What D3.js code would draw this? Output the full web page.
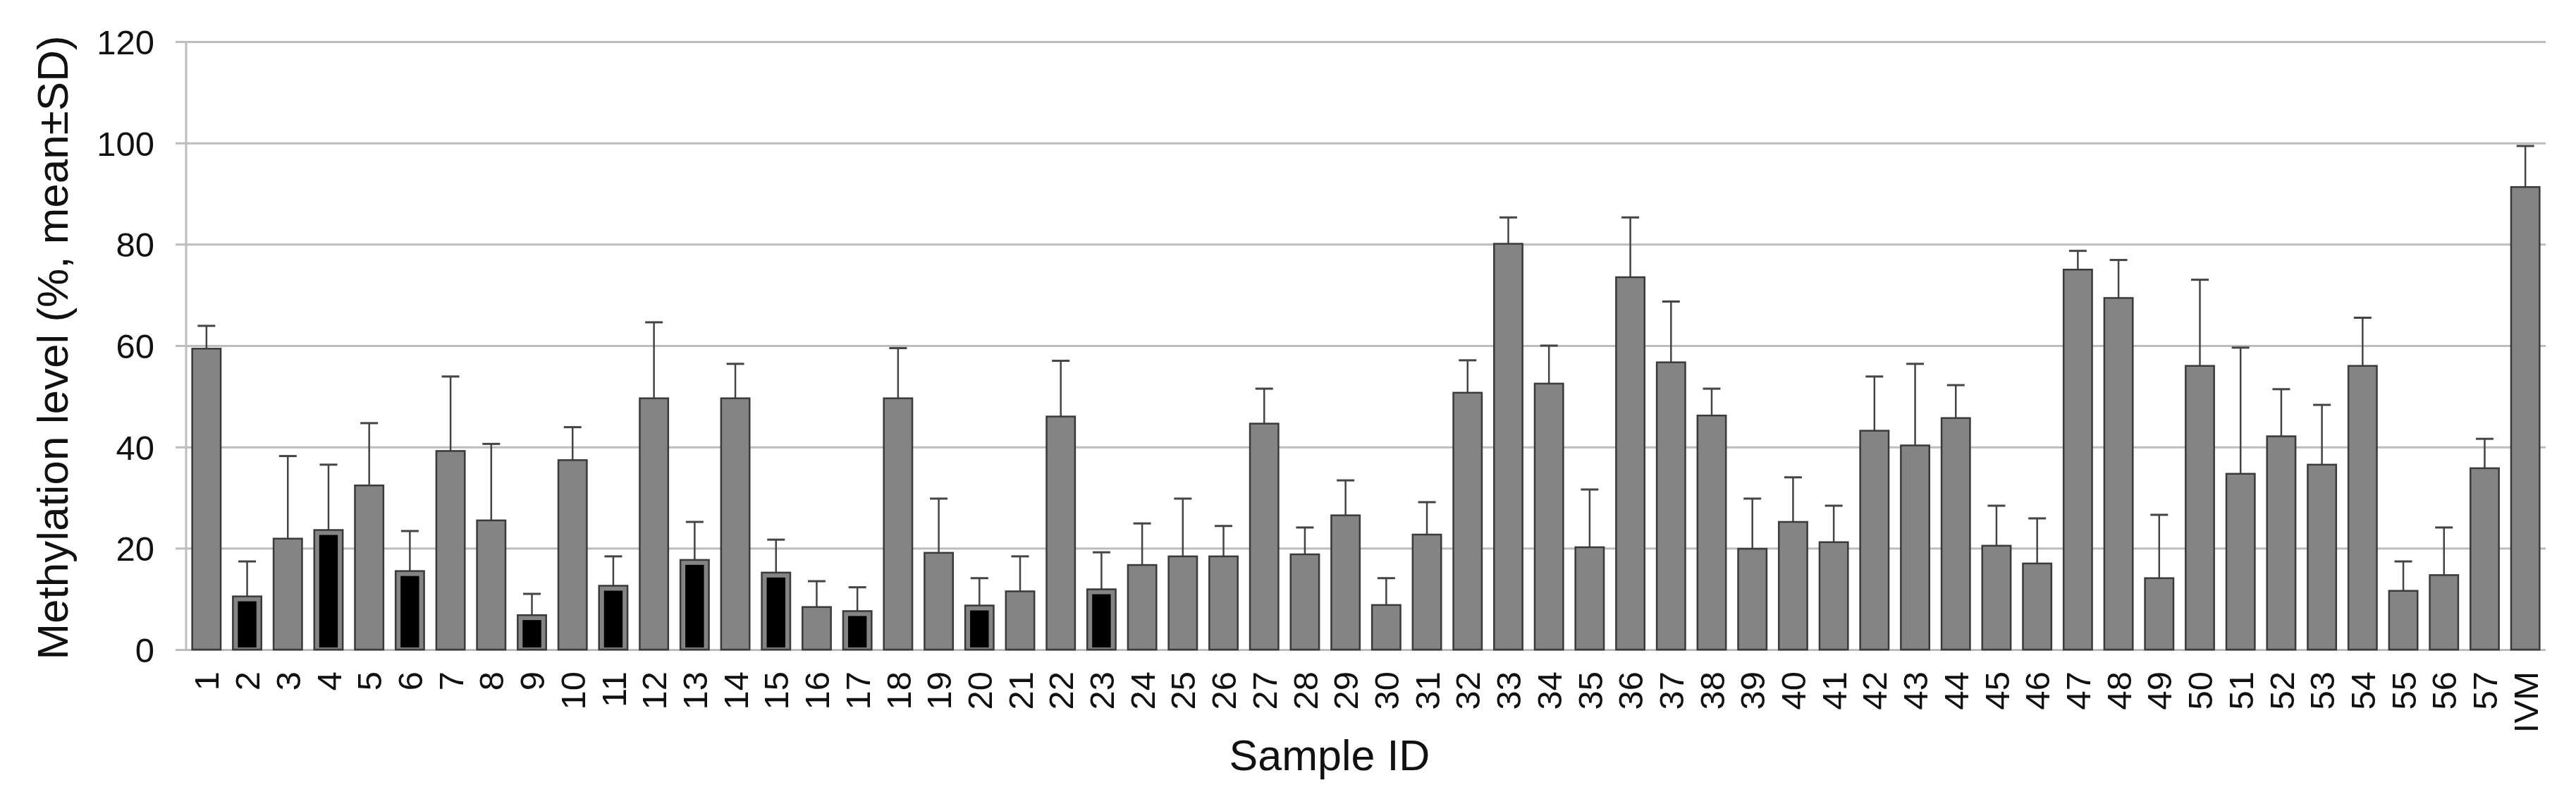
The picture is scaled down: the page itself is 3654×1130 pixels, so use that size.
<!DOCTYPE html>
<html>
<head>
<meta charset="utf-8">
<script src="https://cdn.jsdelivr.net/npm/d3@7"></script>
<style>
  body { margin: 0; background: #fff; }
  text { font-family: "Liberation Sans", Arial, sans-serif; fill: #111; }
</style>
</head>
<body>
<div id="chart"></div>
<script>
// sample labels, means and SDs
var samples = ["1","2","3","4","5","6","7","8","9","10","11","12","13","14","15","16","17","18","19","20",
  "21","22","23","24","25","26","27","28","29","30","31","32","33","34","35","36","37","38","39","40",
  "41","42","43","44","45","46","47","48","49","50","51","52","53","54","55","56","57","IVM"];

var means = [59.4, 10.5, 21.9, 23.6, 32.4, 15.5, 39.2, 25.5, 6.8, 37.4,
  12.6, 49.6, 17.7, 49.6, 15.2, 8.4, 7.6, 49.6, 19.1, 8.7,
  11.5, 46.0, 11.9, 16.7, 18.4, 18.4, 44.6, 18.8, 26.5, 8.8,
  22.7, 50.7, 80.1, 52.5, 20.2, 73.5, 56.7, 46.2, 19.9, 25.2,
  21.2, 43.2, 40.3, 45.7, 20.5, 17.0, 75.0, 69.4, 14.1, 56.0,
  34.7, 42.1, 36.5, 56.0, 11.6, 14.7, 35.8, 91.3];

var sds = [4.5, 6.9, 16.3, 12.9, 12.3, 7.9, 14.7, 15.1, 4.2, 6.5,
  5.8, 15.0, 7.5, 6.8, 6.5, 5.1, 4.7, 9.9, 10.7, 5.4,
  6.9, 11.0, 7.3, 8.2, 11.4, 6.0, 6.9, 5.3, 6.9, 5.3,
  6.4, 6.4, 5.2, 7.5, 11.4, 11.8, 12.0, 5.3, 9.9, 8.8,
  7.2, 10.7, 16.1, 6.5, 7.9, 8.9, 3.7, 7.5, 12.5, 17.0,
  24.9, 9.3, 11.8, 9.5, 5.8, 9.4, 5.8, 8.1];

// samples drawn with black bars
var blackSamples = ["2","4","6","9","11","13","15","17","20","23"];

var yTicks = [0, 20, 40, 60, 80, 100, 120];

var data = samples.map(function(s, i) {
  return { id: s, mean: means[i], sd: sds[i], black: blackSamples.indexOf(s) >= 0 };
});

var W = 3654, H = 1130;
var plotLeft = 264, plotRight = 3611, plotTop = 59, plotBottom = 921;

var svg = d3.select('#chart').append('svg')
  .attr('width', W)
  .attr('height', H);

var x = d3.scaleBand()
  .domain(samples)
  .range([plotLeft, plotRight])
  .paddingInner(0.3)
  .paddingOuter(0.15);

var y = d3.scaleLinear()
  .domain([0, 120])
  .range([plotBottom, plotTop]);

// gridlines + y tick labels
var yAxis = svg.append('g')
  .attr('transform', 'translate(' + (plotLeft - 15) + ',0)')
  .call(d3.axisLeft(y).tickValues(yTicks).tickSize(-(plotRight - plotLeft + 15)).tickPadding(30));
yAxis.select('.domain').remove();
yAxis.selectAll('line').attr('stroke', '#bdbdbd').attr('stroke-width', 3);
yAxis.selectAll('text')
  .style('font-size', '49px')
  .attr('dy', '0.36em');

// vertical axis line
svg.append('line')
  .attr('x1', plotLeft).attr('x2', plotLeft)
  .attr('y1', y(120)).attr('y2', y(0))
  .attr('stroke', '#bdbdbd')
  .attr('stroke-width', 3);

// x tick labels
var xAxis = svg.append('g')
  .attr('transform', 'translate(0,' + plotBottom + ')')
  .call(d3.axisBottom(x).tickSize(0));
xAxis.select('.domain').remove();
xAxis.selectAll('text')
  .style('font-size', '49px')
  .attr('transform', 'rotate(-90)')
  .attr('text-anchor', 'end')
  .attr('x', -31)
  .attr('y', 0)
  .attr('dy', '0.36em');

// error bars (upper half only)
var capW = 25;
var err = svg.append('g');
err.selectAll('.eb')
  .data(data)
  .enter().append('line')
  .attr('x1', d => x(d.id) + x.bandwidth() / 2)
  .attr('x2', d => x(d.id) + x.bandwidth() / 2)
  .attr('y1', d => y(d.mean))
  .attr('y2', d => y(d.mean + d.sd))
  .attr('stroke', '#444')
  .attr('stroke-width', 2.5);
err.selectAll('.cap')
  .data(data)
  .enter().append('line')
  .attr('x1', d => x(d.id) + x.bandwidth() / 2 - capW / 2)
  .attr('x2', d => x(d.id) + x.bandwidth() / 2 + capW / 2)
  .attr('y1', d => y(d.mean + d.sd))
  .attr('y2', d => y(d.mean + d.sd))
  .attr('stroke', '#444')
  .attr('stroke-width', 3);

// bars
svg.selectAll('.bar')
  .data(data)
  .enter().append('rect')
  .attr('class', 'bar')
  .attr('x', d => x(d.id))
  .attr('y', d => y(d.mean))
  .attr('width', x.bandwidth())
  .attr('height', d => y(0) - y(d.mean))
  .attr('fill', '#848484')
  .attr('stroke', '#3a3a3a')
  .attr('stroke-width', 2.5);

// black core for the highlighted samples
var inset = 7;
svg.selectAll('.core')
  .data(data.filter(d => d.black))
  .enter().append('rect')
  .attr('class', 'core')
  .attr('x', d => x(d.id) + inset)
  .attr('y', d => y(d.mean) + inset)
  .attr('width', x.bandwidth() - inset * 2)
  .attr('height', d => y(0) - y(d.mean) - inset - 3)
  .attr('fill', '#000');

// axis titles
svg.append('text')
  .attr('x', 1886)
  .attr('y', 1092)
  .attr('text-anchor', 'middle')
  .style('font-size', '61px')
  .text('Sample ID');

svg.append('text')
  .attr('transform', 'translate(96,493) rotate(-90)')
  .attr('text-anchor', 'middle')
  .style('font-size', '62px')
  .text('Methylation level (%, mean±SD)');
</script>
</body>
</html>
